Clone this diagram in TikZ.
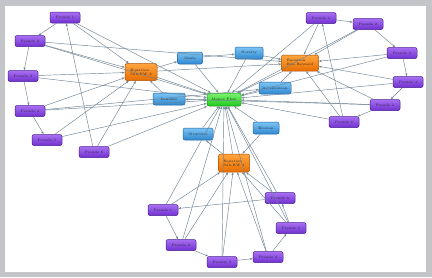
\documentclass[tikz,border=0pt]{standalone}
\usetikzlibrary{arrows.meta}
\definecolor{frame}{HTML}{C4C5C9}
\definecolor{ptop}{HTML}{A870F2}
\definecolor{pbot}{HTML}{7030D0}
\definecolor{pbrd}{HTML}{4B1E94}
\definecolor{otop}{HTML}{FFA540}
\definecolor{obot}{HTML}{E86E00}
\definecolor{obrd}{HTML}{B05000}
\definecolor{btop}{HTML}{7CC4F4}
\definecolor{bbot}{HTML}{2F88D0}
\definecolor{bbrd}{HTML}{2060A0}
\definecolor{gtop}{HTML}{7CF470}
\definecolor{gbot}{HTML}{1FC81F}
\definecolor{gbrd}{HTML}{109010}
\definecolor{edgec}{HTML}{708494}
\tikzset{
  base/.style={rounded corners=2pt, inner sep=0pt, line width=0.5pt,
    font=\fontsize{3.4}{3.9}\selectfont, text=black!85, align=left},
  pnode/.style={base, draw=pbrd, top color=ptop, bottom color=pbot, minimum width=30pt, minimum height=11pt},
  onode/.style={base, draw=obrd, top color=otop, bottom color=obot, minimum width=32pt, minimum height=17pt},
  bnode/.style={base, draw=bbrd, top color=btop, bottom color=bbot, minimum width=28pt, minimum height=12pt},
  gnode/.style={base, draw=gbrd, top color=gtop, bottom color=gbot, minimum width=34pt, minimum height=13pt},
  edge/.style={draw=edgec, line width=0.45pt, -{Stealth[length=3pt,width=2.2pt]}}
}
\begin{document}
\begin{tikzpicture}[x=1pt,y=-1pt]
\fill[frame] (0,0) rectangle (432,277);
\fill[white] (5,6) rectangle (426,272);
\useasboundingbox (0,0) rectangle (432,277);

% left cluster
\node[pnode] (P1) at (65,17.5) {Pseudo 1};
\node[pnode] (P2) at (30,41) {Pseudo 2};
\node[pnode] (P3) at (23,76) {Pseudo 3};
\node[pnode] (P4) at (30,111) {Pseudo 4};
\node[pnode] (P5) at (47,140) {Pseudo 5};
\node[pnode] (P6) at (94,152) {Pseudo 6};
\node[onode] (OL) at (141,72) {Equation\\Sub-KW 2};

% right cluster
\node[pnode] (R1) at (321,18) {Pseudo 1};
\node[pnode] (R2) at (368,24) {Pseudo 2};
\node[pnode] (R3) at (402,53) {Pseudo 3};
\node[pnode] (R4) at (408,82) {Pseudo 4};
\node[pnode] (R5) at (385,105) {Pseudo 5};
\node[pnode] (R6) at (344,122) {Pseudo 6};
\node[onode, minimum width=37pt, minimum height=16pt] (OR) at (300,63) {Equation\\Run Reynold};

% bottom cluster
\node[pnode] (B1) at (163,210) {Pseudo 1};
\node[pnode] (B2) at (181,245) {Pseudo 2};
\node[pnode] (B3) at (222,262) {Pseudo 3};
\node[pnode] (B4) at (268,257) {Pseudo 4};
\node[pnode] (B5) at (291,228) {Pseudo 5};
\node[pnode] (B6) at (280,198) {Pseudo 6};
\node[onode, minimum width=31pt, minimum height=18pt] (OB) at (234,163) {Equation\\Sub-KW 1};

% centre
\node[gnode] (G) at (224,99.5) {Money Flow};
\node[bnode, minimum width=25pt] (Go) at (190,58) {Goals};
\node[bnode] (No) at (249,53) {Novelty};
\node[bnode, minimum width=32pt] (Ac) at (275,88) {Acceleration};
\node[bnode, minimum width=32pt] (Le) at (169,99) {Landuse};
\node[bnode, minimum width=30pt] (St) at (198,134) {Structure};
\node[bnode, minimum width=26pt] (Er) at (266,128) {Erosion};

% rings
\foreach \a/\b in {P1/P2,P2/P3,P3/P4,P4/P5,P6/P1,
                   R1/R2,R2/R3,R3/R4,R4/R5,R5/R6,R6/R1,
                   B1/B2,B2/B3,B3/B4,B4/B5,B5/B6,B6/B1}
  \draw[edge] (\a) -- (\b);

% to cluster equations
\foreach \a in {P1,P2,P3,P4,P5,P6} \draw[edge] (\a) -- (OL);
\foreach \a in {R1,R2,R3,R4,R5,R6} \draw[edge] (\a) -- (OR);
\foreach \a in {B1,B2,B3,B4,B5,B6} \draw[edge] (\a) -- (OB);

% to centre
\foreach \a in {P1,P2,P3,P4,P5,P6,R1,R2,R3,R4,R5,R6,B1,B2,B3,B4,B5,B6,
                OL,OR,OB,Go,No,Ac,Le,St,Er}
  \draw[edge] (\a) -- (G);

% others
\draw[edge] (OL) -- (Go);
\draw[edge] (Go) -- (No);
\draw[edge] (No) -- (OR);
\draw[edge] (OL) -- (OR);
\draw[edge] (Ac) -- (OR);
\draw[edge] (Le) -- (OL);
\draw[edge] (OB) -- (St);
\draw[edge] (Er) -- (OB);
\draw[edge] (P2) -- (OR);
\draw[edge] (P4) -- (Ac);
\draw[edge] (R5) -- (Le);
\end{tikzpicture}
\end{document}
